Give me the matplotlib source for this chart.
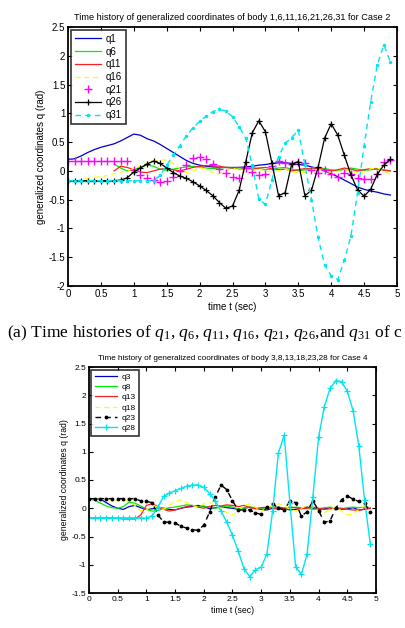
import numpy as np
import matplotlib
matplotlib.use("Agg")
import matplotlib.pyplot as plt
from matplotlib.ticker import FuncFormatter, MultipleLocator

plt.rcParams['font.family'] = ['Liberation Sans', 'DejaVu Sans']
plt.rcParams['mathtext.fontset'] = 'custom'
plt.rcParams['mathtext.rm'] = 'Liberation Serif'
plt.rcParams['mathtext.it'] = 'Liberation Serif:italic'

nan = np.nan
t = [0.0, 0.1, 0.2, 0.3, 0.4, 0.5, 0.6, 0.7, 0.8, 0.9,
     1.0, 1.1, 1.2, 1.3, 1.4, 1.5, 1.6, 1.7, 1.8, 1.9,
     2.0, 2.1, 2.2, 2.3, 2.4, 2.5, 2.6, 2.7, 2.8, 2.9,
     3.0, 3.1, 3.2, 3.3, 3.4, 3.5, 3.6, 3.7, 3.8, 3.9,
     4.0, 4.1, 4.2, 4.3, 4.4, 4.5, 4.6, 4.7, 4.8, 4.9]

# ---- Case 2 (top) ----
q1 = [0.20, 0.21, 0.26, 0.32, 0.37, 0.41, 0.44, 0.47, 0.52, 0.58,
      0.64, 0.62, 0.56, 0.52, 0.46, 0.39, 0.32, 0.25, 0.18, 0.13,
      0.10, 0.08, 0.07, 0.06, 0.06, 0.06, 0.06, 0.07, 0.08, 0.10,
      0.11, 0.13, 0.14, 0.14, 0.13, 0.11, 0.10, 0.07, 0.04, 0.00,
      -0.05, -0.10, -0.16, -0.22, -0.28, -0.32, -0.35, -0.37, -0.40, -0.42]
q6 = [nan, nan, nan, nan, nan, nan, nan, 0.12, 0.05, 0.00,
      0.02, 0.06, 0.10, 0.08, 0.03, 0.01, 0.03, 0.05, 0.07, 0.08,
      0.07, 0.05, 0.04, 0.05, 0.06, 0.05, 0.03, 0.04, 0.06, 0.04,
      0.02, 0.03, 0.05, 0.06, 0.03, 0.00, 0.02, 0.05, 0.06, 0.04,
      0.02, 0.00, 0.03, 0.05, 0.03, 0.01, 0.02, 0.04, 0.02, 0.00]
q11 = [nan, nan, nan, nan, nan, nan, nan, 0.00, 0.08, 0.06,
       0.02, -0.02, -0.03, 0.00, 0.03, 0.04, 0.02, 0.00, 0.03, 0.06,
       0.08, 0.09, 0.09, 0.08, 0.06, 0.05, 0.06, 0.05, 0.03, 0.05,
       0.06, 0.04, 0.02, 0.03, 0.00, 0.02, 0.04, 0.03, 0.05, 0.02,
       0.00, 0.02, 0.05, 0.03, 0.00, 0.02, 0.04, 0.03, 0.01, 0.00]
q16 = [-0.17, -0.16, -0.15, -0.13, -0.11, -0.10, -0.08, -0.05, -0.02, 0.00,
       0.04, 0.08, 0.13, 0.17, 0.19, 0.19, 0.13, 0.04, -0.03, 0.00,
       0.05, 0.03, -0.03, -0.05, 0.00, 0.04, 0.02, -0.02, 0.00, 0.03,
       0.00, -0.02, 0.00, 0.03, -0.01, -0.04, -0.02, 0.02, 0.03, 0.00,
       -0.03, -0.01, 0.02, 0.00, -0.03, -0.02, 0.04, 0.05, 0.00, -0.06]
q21 = [0.18, 0.18, 0.18, 0.18, 0.18, 0.18, 0.18, 0.18, 0.18, 0.18,
       0.02, -0.08, -0.12, -0.15, -0.19, -0.18, -0.10, 0.00, 0.10, 0.23,
       0.24, 0.20, 0.12, 0.03, -0.03, -0.10, -0.12, 0.05, -0.02, -0.08,
       -0.05, 0.08, 0.18, 0.14, 0.12, 0.16, 0.13, 0.02, -0.03, 0.02,
       -0.06, -0.10, -0.04, -0.06, -0.12, -0.14, -0.14, -0.05, 0.16, 0.19]
q26 = [-0.17, -0.17, -0.17, -0.17, -0.17, -0.17, -0.17, -0.17, -0.16, -0.12,
       -0.02, 0.05, 0.12, 0.17, 0.13, 0.05, -0.03, -0.09, -0.13, -0.19,
       -0.26, -0.34, -0.43, -0.55, -0.65, -0.61, -0.34, 0.15, 0.66, 0.87,
       0.68, 0.13, -0.43, -0.38, 0.12, 0.16, -0.43, -0.34, 0.06, 0.57,
       0.82, 0.62, 0.27, -0.07, -0.33, -0.44, -0.32, -0.06, 0.10, 0.20]
q31 = [-0.17, -0.17, -0.17, -0.17, -0.17, -0.17, -0.17, -0.17, -0.17, -0.17,
       -0.17, -0.17, -0.17, -0.17, -0.08, 0.10, 0.28, 0.44, 0.61, 0.75,
       0.86, 0.95, 1.03, 1.07, 1.04, 0.94, 0.77, 0.57, 0.10, -0.49,
       -0.58, -0.15, 0.25, 0.48, 0.58, 0.71, 0.10, -0.50, -1.15, -1.63,
       -1.82, -1.89, -1.55, -1.13, -0.38, 0.43, 1.20, 1.84, 2.19, 1.89]

# ---- Case 4 (bottom) ----
q3 = [0.17, 0.17, 0.16, 0.10, 0.04, 0.00, -0.02, 0.03, 0.05, 0.01,
      -0.02, -0.01, 0.01, 0.00, -0.02, -0.03, 0.00, 0.02, 0.03, 0.05,
      0.03, -0.01, 0.01, 0.03, 0.01, 0.00, -0.02, 0.00, 0.02, 0.00,
      -0.02, -0.03, 0.00, 0.02, 0.00, -0.03, -0.02, 0.00, 0.02, 0.00,
      -0.02, -0.01, 0.01, 0.00, -0.02, -0.01, 0.01, -0.03, -0.02, 0.00]
q8 = [0.17, 0.14, 0.09, 0.04, 0.01, 0.00, 0.03, 0.11, 0.09, 0.04,
      -0.02, -0.05, -0.04, -0.01, 0.01, 0.02, 0.04, 0.06, 0.05, 0.03,
      0.04, 0.02, 0.00, 0.02, 0.04, 0.02, -0.01, 0.00, 0.02, 0.01,
      -0.01, 0.00, 0.02, 0.01, -0.01, 0.00, 0.02, 0.01, 0.00, -0.02,
      -0.01, 0.01, 0.02, 0.00, -0.01, 0.01, 0.02, 0.01, 0.02, 0.01]
q13 = [-0.17, -0.17, -0.17, -0.17, -0.17, -0.18, -0.19, -0.19, -0.19, -0.12,
       0.05, 0.08, 0.03, -0.02, -0.05, -0.03, 0.00, 0.03, 0.05, 0.02,
       0.00, 0.03, 0.05, 0.04, 0.06, 0.05, 0.03, 0.05, 0.01, -0.01,
       0.01, 0.02, 0.00, -0.02, 0.00, 0.02, 0.01, -0.01, 0.00, 0.02,
       0.00, -0.02, -0.01, 0.01, 0.00, -0.02, -0.03, -0.04, -0.01, 0.00]
q18 = [0.17, 0.17, 0.16, 0.15, 0.15, 0.14, 0.14, 0.12, 0.05, -0.05,
       -0.03, 0.05, 0.02, -0.02, 0.05, 0.12, 0.15, 0.10, 0.05, 0.02,
       0.08, 0.10, 0.05, 0.00, -0.08, -0.12, -0.05, 0.05, 0.08, 0.02,
       -0.05, 0.00, 0.05, 0.08, 0.05, -0.02, -0.05, 0.00, 0.05, 0.02,
       -0.05, -0.08, -0.02, 0.03, -0.05, -0.12, -0.10, -0.02, 0.05, 0.02]
q23 = [0.17, 0.17, 0.17, 0.17, 0.17, 0.17, 0.17, 0.17, 0.17, 0.13,
       0.12, 0.10, -0.12, -0.24, -0.25, -0.26, -0.32, -0.35, -0.38, -0.39,
       -0.30, -0.07, 0.20, 0.41, 0.33, 0.13, -0.03, -0.03, -0.03, -0.08,
       -0.11, 0.02, 0.08, 0.00, -0.03, 0.13, 0.10, -0.14, -0.06, 0.13,
       -0.04, -0.25, -0.22, 0.00, 0.15, 0.22, 0.16, 0.12, 0.09, -0.07]
q28 = [-0.17, -0.17, -0.17, -0.17, -0.17, -0.17, -0.17, -0.17, -0.17, -0.17,
       -0.18, -0.13, 0.02, 0.21, 0.27, 0.31, 0.35, 0.39, 0.41, 0.41,
       0.37, 0.26, 0.13, -0.05, -0.25, -0.48, -0.76, -1.07, -1.21, -1.09,
       -1.04, -0.81, -0.04, 0.98, 1.29, 0.10, -1.04, -1.17, -0.81, 0.20,
       1.26, 1.80, 2.12, 2.26, 2.24, 2.07, 1.73, 1.11, 0.15, -0.63]

dash = (0, (4, 3))
fmt = FuncFormatter(lambda v, p: ('%g' % round(v, 2)))

fig = plt.figure(figsize=(4.06, 6.28), dpi=100)

def style_axes(ax, fs):
    ax.tick_params(direction='in', top=True, right=True, labelsize=fs,
                   length=3, width=0.8, pad=2)
    for s in ax.spines.values():
        s.set_linewidth(1.3)
    ax.xaxis.set_major_locator(MultipleLocator(0.5))
    ax.yaxis.set_major_locator(MultipleLocator(0.5))
    ax.xaxis.set_major_formatter(fmt)
    ax.yaxis.set_major_formatter(fmt)

GREEN = '#00ee00'

# top axes
ax1 = fig.add_axes([68/406, 1-286/628, (397-68)/406, (286-27)/628])
ax1.plot(t, q1, color='#0000cc', lw=0.9, label='q1')
ax1.plot(t, q6, color=GREEN, lw=0.9, label='q6')
ax1.plot(t, q11, color='#ff2020', lw=0.9, label='q11')
ax1.plot(t, q16, color='#ffff00', lw=0.9, ls=dash, label='q16')
ax1.plot(t, q21, color='#ff00ff', ls='none', marker='+', ms=6, mew=1.0, label='q21')
ax1.plot(t, q26, color='black', lw=0.9, marker='+', ms=5, mew=0.9, label='q26')
ax1.plot(t, q31, color='#00e5ee', lw=1.0, ls=dash, marker='.', ms=3, label='q31')
ax1.set_xlim(0, 5)
ax1.set_ylim(-2, 2.5)
style_axes(ax1, 7)
ax1.set_title('Time history of generalized coordinates of body 1,6,11,16,21,26,31 for Case 2',
              fontsize=6.6, pad=5)
ax1.set_xlabel('time t (sec)', fontsize=7, labelpad=2)
ax1.set_ylabel('generalized coordinates q (rad)', fontsize=7, labelpad=2)
leg1 = ax1.legend(loc='upper left', fontsize=7, frameon=True, fancybox=False,
                  edgecolor='black', borderaxespad=0.3, handlelength=2.7,
                  labelspacing=0.28, borderpad=0.4, handletextpad=0.5)
leg1.get_frame().set_linewidth(1.2)

# caption (cut at the right edge in the reference, as shown there)
fig.text(7/406, 1-333/628,
         r'(a) Time histories of $\mathit{q_{1}}$, $\mathit{q_{6}}$, $\mathit{q_{11}}$, '
         r'$\mathit{q_{16}}$, $\mathit{q_{21}}$, $\mathit{q_{26}}$,and $\mathit{q_{31}}$ of c',
         fontsize=12.6, family='Liberation Serif', va='center', ha='left')

# bottom axes
ax2 = fig.add_axes([89/406, 1-593/628, (376-89)/406, (593-367)/628])
ax2.plot(t, q3, color='#0000cc', lw=0.9, label='q3')
ax2.plot(t, q8, color=GREEN, lw=0.9, label='q8')
ax2.plot(t, q13, color='#ff2020', lw=0.9, label='q13')
ax2.plot(t, q18, color='#ffff00', lw=0.9, ls=dash, label='q18')
ax2.plot(t, q23, color='black', lw=1.0, ls=dash, marker='.', ms=3.5, label='q23')
ax2.plot(t, q28, color='#00e5ee', lw=1.0, marker='+', ms=5, mew=0.9, label='q28')
ax2.set_xlim(0, 5)
ax2.set_ylim(-1.5, 2.5)
style_axes(ax2, 6)
ax2.set_title('Time history of generalized coordinates of body 3,8,13,18,23,28 for Case 4',
              fontsize=5.9, pad=5)
ax2.set_xlabel('time t (sec)', fontsize=6.2, labelpad=2)
ax2.set_ylabel('generalized coordinates q (rad)', fontsize=6.2, labelpad=2)
leg2 = ax2.legend(loc='upper left', fontsize=6, frameon=True, fancybox=False,
                  edgecolor='black', borderaxespad=0.3, handlelength=2.7,
                  labelspacing=0.3, borderpad=0.4, handletextpad=0.5)
leg2.get_frame().set_linewidth(1.2)

fig.savefig('out.png', dpi=100)
